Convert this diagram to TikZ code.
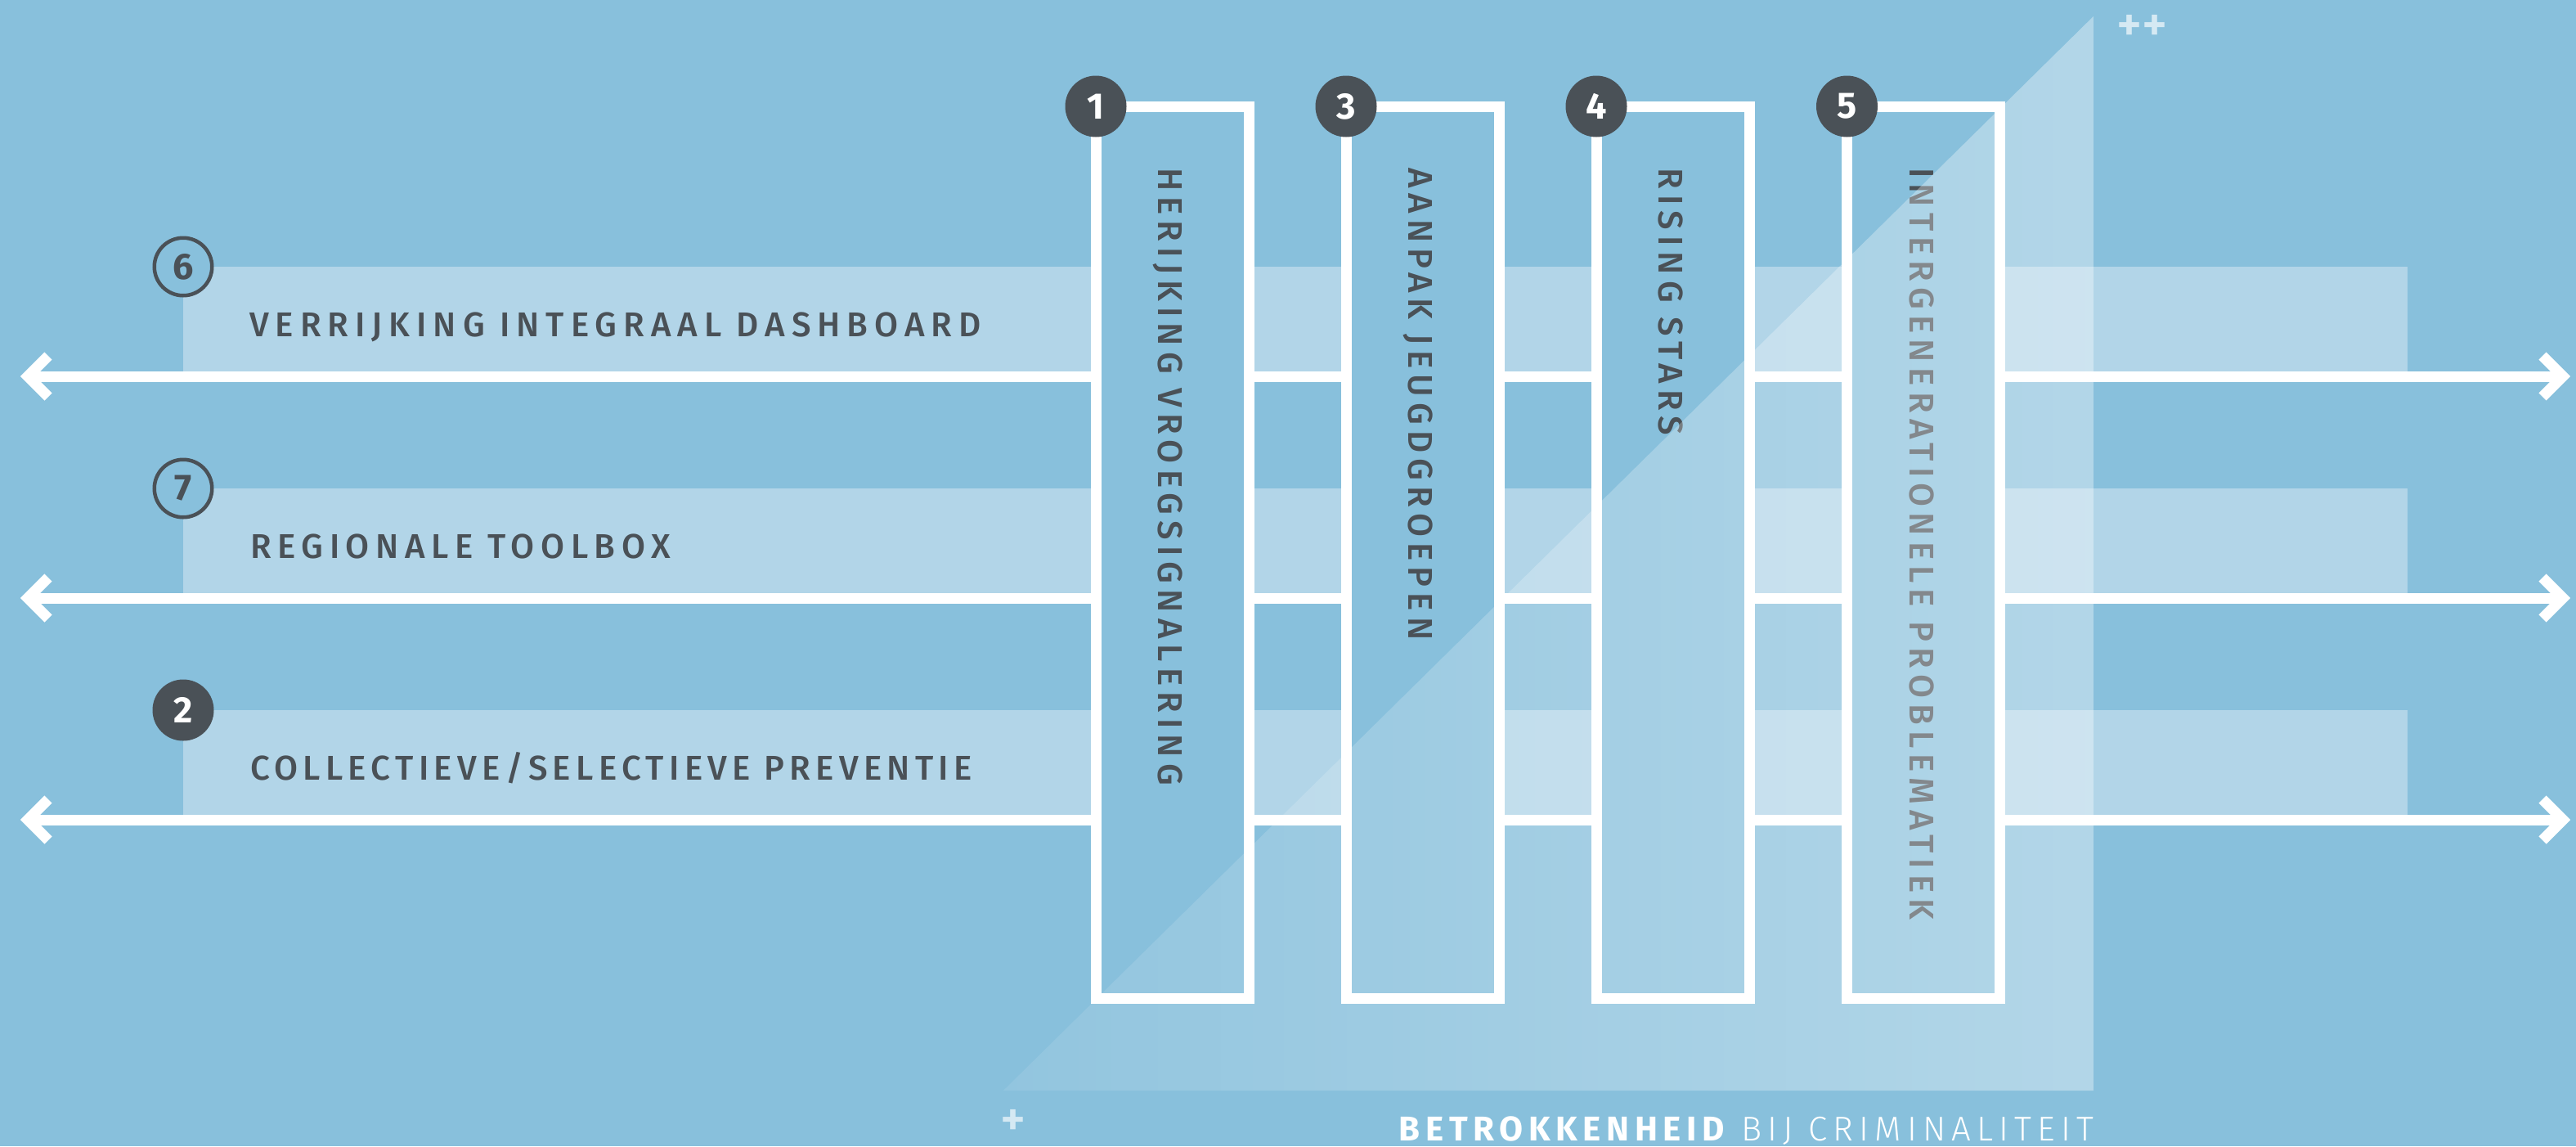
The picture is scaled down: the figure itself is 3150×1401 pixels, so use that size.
\documentclass[tikz,border=0pt]{standalone}
\usepackage{fontspec}
\setmainfont{Fira Sans}
\newfontfamily\labelfont[LetterSpace=17]{Fira Sans Medium}
\newfontfamily\labelfonta[LetterSpace=19]{Fira Sans Medium}
\newfontfamily\labelfontb[LetterSpace=15]{Fira Sans Medium}
\newfontfamily\labelfontc[LetterSpace=18]{Fira Sans Medium}
\newfontfamily\numfont{Fira Sans}
\newfontfamily\plusfont{Fira Sans Medium}
\newfontfamily\axisboldfont[LetterSpace=16]{Fira Sans}
\newfontfamily\axislightfont[LetterSpace=17]{Fira Sans Light}
\usetikzlibrary{calc,fadings}
\definecolor{bgblue}{HTML}{88C0DC}
\definecolor{bandblue}{HTML}{B2D5E8}
\definecolor{darkgray}{HTML}{4A5157}
\definecolor{plusc}{HTML}{D5E9F3}
\begin{tikzfadingfrompicture}[name=trifade]
  \shade[left color=transparent!93, right color=transparent!62] (0,0) rectangle (2,2);
\end{tikzfadingfrompicture}
\begin{document}
\begin{tikzpicture}[x=1pt,y=-1pt,
  bandbox/.style={fill=bandblue, draw=none},
  arrowline/.style={draw=white, line width=13pt},
  chevron/.style={draw=white, line width=13pt, line join=miter},
  barbox/.style={draw=white, fill=bgblue, line width=13pt, minimum width=187pt, minimum height=1090pt, inner sep=0pt, outer sep=0pt},
  numdot/.style={circle, fill=darkgray, minimum size=75pt, inner sep=0pt, text=white, font=\numfont\bfseries\fontsize{45}{45}\selectfont},
  numring/.style={circle, draw=darkgray, line width=4.5pt, fill=bgblue, minimum size=70.5pt, inner sep=0pt, text=darkgray, font=\numfont\bfseries\fontsize{45}{45}\selectfont},
  hlabel/.style={anchor=base west, inner sep=0pt, text=darkgray, font=\labelfont\fontsize{42}{42}\selectfont},
  vlabel/.style={hlabel, rotate=-90},
  pluslabel/.style={inner sep=0pt, text=plusc, font=\plusfont\fontsize{60}{60}\selectfont},
  axislabel/.style={anchor=base east, inner sep=0pt, text=white, font=\fontsize{42}{42}\selectfont}
]
\useasboundingbox (0,0) rectangle (3150,1401);
\fill[bgblue] (0,0) rectangle (3150,1401);

% bands
\fill[bandbox] (224,326) rectangle (2944,460);
\fill[bandbox] (224,597) rectangle (2944,731);
\fill[bandbox] (224,868) rectangle (2944,1002);

% arrows
\coordinate (a1L) at (34,460);  \coordinate (a1R) at (3134,460);
\coordinate (a2L) at (34,731);  \coordinate (a2R) at (3134,731);
\coordinate (a3L) at (34,1002); \coordinate (a3R) at (3134,1002);
\foreach \a in {a1,a2,a3}{
  \draw[arrowline] (\a L) -- (\a R);
  \draw[chevron] ($(\a L)+(25,-25)$) -- (\a L) -- ($(\a L)+(25,25)$);
  \draw[chevron] ($(\a R)+(-25,-25)$) -- (\a R) -- ($(\a R)+(-25,25)$);
}

% bars
\node[barbox] (b1) at (1433.5,675) {};
\node[barbox] (b3) at (1739.5,675) {};
\node[barbox] (b4) at (2045.5,675) {};
\node[barbox] (b5) at (2352,675) {};

% vertical labels
\node[vlabel] (t1) at ($(b1.north)+(-17,75)$) {HERIJKING VROEGSIGNALERING};
\node[vlabel] (t3) at ($(b3.north)+(-17,75)$) {AANPAK JEUGDGROEPEN};
\node[vlabel] (t4) at ($(b4.north)+(-17,75)$) {RISING STARS};
\node[vlabel] (t5) at ($(b5.north)+(-17,75)$) {INTERGENERATIONELE PROBLEMATIEK};

% band labels
\node[hlabel, font=\labelfonta\fontsize{42}{42}\selectfont] (l6) at (305,411) {VERRIJKING INTEGRAAL DASHBOARD};
\node[hlabel, font=\labelfontc\fontsize{42}{42}\selectfont] (l7) at (306,682) {REGIONALE TOOLBOX};
\node[hlabel, font=\labelfontb\fontsize{42}{42}\selectfont] (l2) at (306,953) {COLLECTIEVE/SELECTIEVE PREVENTIE};

% number circles
\node[numring] (c6) at (224,326) {6};
\node[numring] (c7) at (224,597) {7};
\node[numdot] (c2) at (224,868) {2};
\node[numdot] (c1) at (b1.north west) {1};
\node[numdot] (c3) at (b3.north west) {3};
\node[numdot] (c4) at (b4.north west) {4};
\node[numdot] (c5) at (b5.north west) {5};

% triangle overlay
\coordinate (tA) at (1227,1333);
\coordinate (tB) at (2560,17);
\coordinate (tC) at (2560,1333);
\fill[white, path fading=trifade, fit fading=true] (tA) -- (tB) -- (tC) -- cycle;

% axis marks
\node[pluslabel] (p0) at (1239,1372) {+};
\node[pluslabel] (p1) at (2619,34) {++};
\node[axislabel] (ax) at (2560,1394) {{\axisboldfont\bfseries BETROKKENHEID}\hspace{20pt}{\axislightfont BIJ CRIMINALITEIT}};
\end{tikzpicture}
\end{document}
